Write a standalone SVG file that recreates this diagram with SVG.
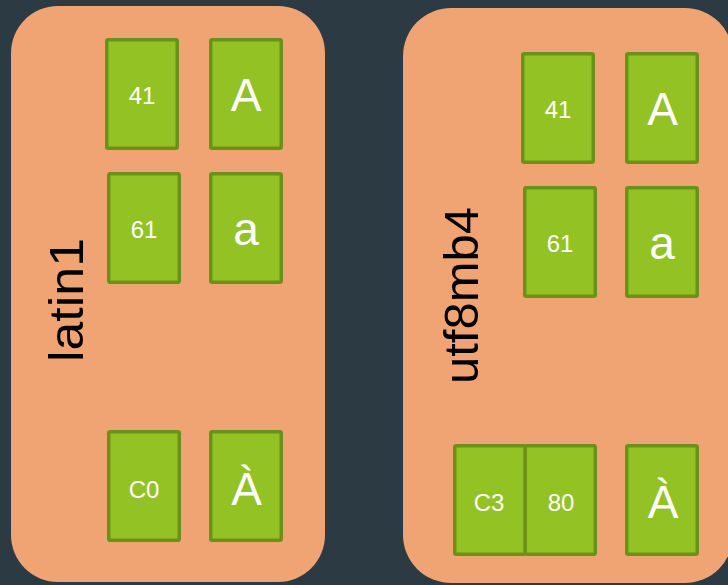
<svg xmlns="http://www.w3.org/2000/svg" width="728" height="585" viewBox="0 0 728 585">
  <style>
    .panel { fill: #f0a373; }
    .cell { fill: #93c225; stroke: #6b9119; stroke-width: 3.5; }
    .hex { font-family: "Liberation Sans", Arial, sans-serif; font-size: 24px; fill: #ffffff; text-anchor: middle; }
    .chr { font-family: "Liberation Sans", Arial, sans-serif; font-size: 46px; fill: #ffffff; text-anchor: middle; }
    .title { font-family: "Liberation Sans", Arial, sans-serif; font-size: 48px; fill: #000000; text-anchor: middle; }
  </style>
  <rect width="728" height="585" fill="#2b3a43"/>

  <!-- latin1 encoding panel -->
  <g id="latin1">
    <rect class="panel" x="11" y="6" width="314" height="576" rx="47"/>
    <text class="title" transform="translate(83 300) rotate(-90)" textLength="124" lengthAdjust="spacingAndGlyphs">latin1</text>
  </g>
  <g id="latin1-41">
    <rect class="cell" x="106.75" y="39.75" width="70.5" height="108.5" rx="1.5"/>
    <text class="hex" x="142" y="104">41</text>
  </g>
  <g id="latin1-A">
    <rect class="cell" x="210.75" y="39.75" width="70.5" height="108.5" rx="1.5"/>
    <text class="chr" x="246" y="111">A</text>
  </g>
  <g id="latin1-61">
    <rect class="cell" x="108.75" y="173.75" width="70.5" height="108.5" rx="1.5"/>
    <text class="hex" x="144" y="238">61</text>
  </g>
  <g id="latin1-a">
    <rect class="cell" x="210.75" y="173.75" width="70.5" height="108.5" rx="1.5"/>
    <text class="chr" x="246" y="245">a</text>
  </g>
  <g id="latin1-C0">
    <rect class="cell" x="108.75" y="431.75" width="70.5" height="108.5" rx="1.5"/>
    <text class="hex" x="144" y="498">C0</text>
  </g>
  <g id="latin1-Agrave">
    <rect class="cell" x="210.75" y="431.75" width="70.5" height="108.5" rx="1.5"/>
    <text class="chr" x="246.5" y="505">À</text>
  </g>

  <!-- utf8mb4 encoding panel -->
  <g id="utf8mb4">
    <rect class="panel" x="403" y="8" width="330" height="575" rx="48"/>
    <text class="title" transform="translate(478 295.5) rotate(-90)" textLength="177" lengthAdjust="spacingAndGlyphs">utf8mb4</text>
  </g>
  <g id="utf8mb4-41">
    <rect class="cell" x="522.75" y="53.75" width="70.5" height="108.5" rx="1.5"/>
    <text class="hex" x="558" y="118">41</text>
  </g>
  <g id="utf8mb4-A">
    <rect class="cell" x="626.75" y="53.75" width="70.5" height="108.5" rx="1.5"/>
    <text class="chr" x="662.5" y="125">A</text>
  </g>
  <g id="utf8mb4-61">
    <rect class="cell" x="524.75" y="187.75" width="70.5" height="108.5" rx="1.5"/>
    <text class="hex" x="560" y="252">61</text>
  </g>
  <g id="utf8mb4-a">
    <rect class="cell" x="626.75" y="187.75" width="70.5" height="108.5" rx="1.5"/>
    <text class="chr" x="662" y="259">a</text>
  </g>
  <g id="utf8mb4-C380">
    <rect class="cell" x="454.75" y="445.75" width="70.5" height="108.5" rx="1.5"/>
    <rect class="cell" x="525.25" y="445.75" width="70" height="108.5" rx="1.5"/>
    <text class="hex" x="489" y="511">C3</text>
    <text class="hex" x="561" y="511">80</text>
  </g>
  <g id="utf8mb4-Agrave">
    <rect class="cell" x="626.75" y="445.75" width="70.5" height="108.5" rx="1.5"/>
    <text class="chr" x="663" y="518">À</text>
  </g>
</svg>
